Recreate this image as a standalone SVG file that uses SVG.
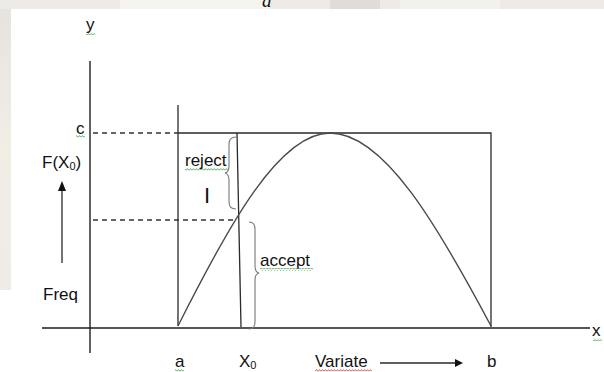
<svg xmlns="http://www.w3.org/2000/svg" width="604" height="372" viewBox="0 0 604 372">
<defs>
<style>
.ln{stroke:#2a2a2a;stroke-width:1.3;fill:none}
.ax{stroke:#1e1e1e;stroke-width:1.4;fill:none}
.ds{stroke:#333;stroke-width:1.3;fill:none;stroke-dasharray:5 4}
.cv{stroke:#4a4a4a;stroke-width:1.4;fill:none}
.br{stroke:#777;stroke-width:1.1;fill:none}
.t{font-family:"Liberation Sans",Arial,sans-serif;font-size:17px;fill:#111}
.sub{font-size:11px}
</style>
<pattern id="sqg" patternUnits="userSpaceOnUse" width="3" height="3"><path d="M0,2.4 L1.5,0.6 L3,2.4" stroke="#3a9a3a" stroke-width="0.8" fill="none"/></pattern>
<pattern id="sqr" patternUnits="userSpaceOnUse" width="3" height="3"><path d="M0,2.4 L1.5,0.6 L3,2.4" stroke="#d23030" stroke-width="0.8" fill="none"/></pattern>
<linearGradient id="bgl" x1="0" y1="0" x2="0" y2="1"><stop offset="0" stop-color="#e6e2dd"/><stop offset="0.5" stop-color="#f1eee6"/><stop offset="1" stop-color="#efebe6"/></linearGradient>
</defs>
<!-- background -->
<rect x="0" y="0" width="604" height="372" fill="#ffffff"/>
<rect x="0" y="0" width="11" height="290" fill="url(#bgl)"/>
<rect x="0" y="0" width="604" height="9" fill="#eeebe7"/>
<rect x="120" y="0" width="150" height="9" fill="#f6f4ef"/>
<rect x="330" y="0" width="50" height="9" fill="#e0dcd8"/>
<rect x="400" y="0" width="100" height="9" fill="#f3f1ee"/>
<text x="262" y="7" font-family="'Liberation Serif',serif" font-style="italic" font-size="19" fill="#111">a</text>
<rect x="11" y="9" width="593" height="363" fill="#ffffff"/>

<g id="axes">
<path class="ax" d="M90,61 V353"/>
<path class="ax" d="M42,328 H590"/>
</g>

<g id="frame">
<path class="ln" d="M178,105 V326"/>
<path class="ln" d="M178,133 H491 V327"/>
<path class="ln" d="M237,133 L241,327"/>
</g>

<g id="guides">
<path class="ds" d="M93,133 H178"/>
<path class="ds" d="M93,220 H236"/>
</g>

<g id="curve">
<path class="cv" d="M178,326 C228.7,225 279.3,133 330,133 C383.7,133 437.3,225 491,326"/>
</g>

<g id="braces">
<path class="br" d="M236,137 Q229,137 229,144 L229,166 Q229,172 225,173 Q229,174 229,180 L229,202 Q229,209 236,209"/>
<path class="br" d="M249,222 Q255,222 255,229 L255,266 Q255,272 259,273 Q255,274 255,280 L255,322 Q255,329 249,329"/>
</g>

<g id="arrows">
<path class="ln" d="M62,263 V190"/>
<polygon points="62,181 58,191 66,191" fill="#111"/>
<path class="ln" d="M380,363 H456"/>
<polygon points="463,363 455,359 455,367" fill="#111"/>
</g>

<g id="labels">
<text class="t" x="86" y="30">y</text>
<text class="t" x="76" y="134">c</text>
<text class="t" x="42" y="168">F(X<tspan class="sub" dy="2">0</tspan><tspan dy="-2">)</tspan></text>
<text class="t" x="43" y="300">Freq</text>
<text class="t" x="185" y="166">reject</text>
<text x="204" y="203" font-family="'Liberation Sans',Arial,sans-serif" font-size="22" fill="#111">I</text>
<text class="t" x="260" y="266">accept</text>
<text class="t" x="175" y="367">a</text>
<text class="t" x="239" y="367">X<tspan class="sub" dy="2">0</tspan></text>
<text class="t" x="315" y="367">Variate</text>
<text class="t" x="487" y="367">b</text>
<text class="t" x="592" y="336">x</text>
</g>

<g id="spellmarks">
<rect x="86" y="32" width="9" height="3" fill="url(#sqg)"/>
<rect x="76" y="135" width="9" height="3" fill="url(#sqg)"/>
<rect x="185" y="168" width="43" height="3" fill="url(#sqg)"/>
<rect x="260" y="268" width="53" height="3" fill="url(#sqg)"/>
<rect x="175" y="369" width="9" height="3" fill="url(#sqg)"/>
<rect x="593" y="338" width="9" height="3" fill="url(#sqg)"/>
<rect x="315" y="369" width="57" height="3" fill="url(#sqr)"/>
</g>
</svg>
